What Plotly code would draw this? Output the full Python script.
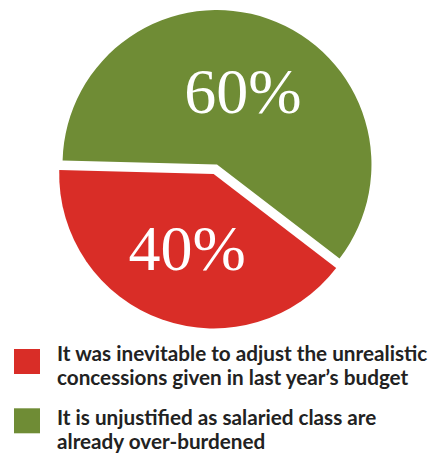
import plotly.graph_objects as go

labels = [
    "It was inevitable to adjust the unrealistic<br>concessions given in last year\u2019s budget",
    "It is unjustified as salaried class are<br>already over-burdened",
]
values = [40, 60]
colors = ["#D92D27", "#6F8C35"]
pulls = [0.065, 0]

W, H = 443, 453

fig = go.Figure(
    go.Pie(
        labels=labels,
        values=values,
        sort=False,
        direction="clockwise",
        rotation=127.5,
        pull=pulls,
        marker=dict(colors=colors, line=dict(width=0)),
        textinfo="percent",
        texttemplate="%{percent:.0%}",
        textposition="inside",
        insidetextorientation="horizontal",
        textfont=dict(family="Liberation Serif", size=64, color="white"),
        showlegend=False,
        hoverinfo="label+percent",
        domain=dict(x=[0.1185, 0.8612], y=[0.2737, 1.0]),
    )
)

# Manual legend: large square swatches + two-line bold text (one annotation per line)
swatch_centre_px = [361.5, 420.8]
line_mid_px = [[353, 376.5], [417, 441]]
shapes = []
annotations = []
for lab, col, yc, mids in zip(labels, colors, swatch_centre_px, line_mid_px):
    shapes.append(dict(
        type="rect", xref="paper", yref="paper",
        x0=14 / W, x1=40 / W, y0=(H - yc - 12.5) / H, y1=(H - yc + 12.5) / H,
        fillcolor=col, line=dict(width=0),
    ))
    for line, ym in zip(lab.split("<br>"), mids):
        annotations.append(dict(
            text="<b>" + line + "</b>", xref="paper", yref="paper",
            x=55 / W, y=(H - ym) / H, xanchor="left", yanchor="middle",
            align="left", showarrow=False,
            font=dict(family="Lato", size=20.7, color="#222222"),
        ))

fig.update_layout(
    width=W, height=H,
    margin=dict(l=0, r=0, t=0, b=0),
    paper_bgcolor="white", plot_bgcolor="white",
    shapes=shapes, annotations=annotations,
)

fig.write_html(
    "out.html",
    config={"displayModeBar": False},
    post_script="document.body.style.margin='0';",
)
